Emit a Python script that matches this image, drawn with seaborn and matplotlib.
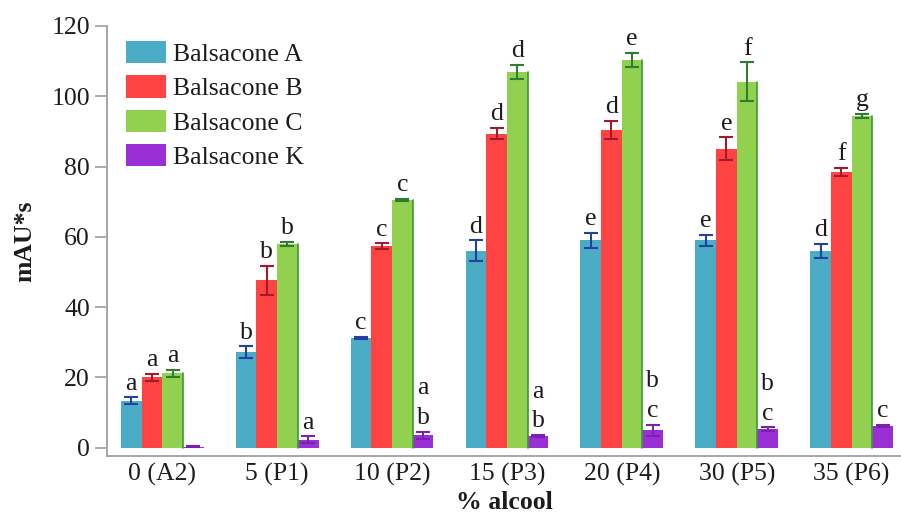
import numpy as np
import pandas as pd
import matplotlib
matplotlib.use("Agg")
import matplotlib.pyplot as plt
import seaborn as sns

categories = ["0 (A2)", "5 (P1)", "10 (P2)", "15 (P3)", "20 (P4)", "30 (P5)", "35 (P6)"]
series = ["Balsacone A", "Balsacone B", "Balsacone C", "Balsacone K"]

bal_a = [13.3, 27.1, 31.2, 56.0, 59.0, 59.0, 56.0]
bal_b = [20.1, 47.6, 57.3, 89.3, 90.4, 85.1, 78.4]
bal_c = [21.2, 58.0, 70.5, 106.9, 110.3, 104.1, 94.4]
bal_k = [0.3, 2.2, 3.5, 3.3, 4.9, 5.3, 6.2]

err_a = [1.0, 1.7, 0.3, 3.0, 2.2, 1.5, 1.9]
err_b = [1.0, 4.1, 0.8, 1.6, 2.6, 3.2, 1.1]
err_c = [1.0, 0.6, 0.2, 1.9, 2.1, 5.5, 0.5]
err_k = [0.1, 1.0, 1.0, 0.3, 1.7, 0.5, 0.3]

let_a = ["a", "b", "c", "d", "e", "e", "d"]
let_b = ["a", "b", "c", "d", "d", "e", "f"]
let_c = ["a", "b", "c", "d", "e", "f", "g"]
let_k = ["", "a", "a\nb", "a\nb", "b\nc", "b\nc", "c"]

bar_colors = ["#4BACC6", "#FF4242", "#92D050", "#9B2FD6"]
err_colors = ["#2342A0", "#A31A2C", "#2E7D32", "#7A22B0"]

values = [bal_a, bal_b, bal_c, bal_k]
errors = [err_a, err_b, err_c, err_k]
letters = [let_a, let_b, let_c, let_k]

rows = []
for s, vals in zip(series, values):
    for c, v in zip(categories, vals):
        rows.append({"cat": c, "series": s, "val": v})
df = pd.DataFrame(rows)

sns.set_style("white")
plt.rcParams["font.family"] = ["Liberation Serif", "DejaVu Serif"]
FS = 18.5
TXT = "#1c1c1c"

fig = plt.figure(figsize=(9.01, 5.14), dpi=100)
ax = fig.add_axes([0.119, 0.1136, 0.881, 0.836])

sns.barplot(data=df, x="cat", y="val", hue="series", order=categories,
            hue_order=series, palette=bar_colors, saturation=1, width=0.72,
            errorbar=None, ax=ax, linewidth=0)

# error bars and letters from patch positions
containers = list(ax.containers)[:4]
for si, cont in enumerate(containers):
    for bi, patch in enumerate(cont.patches):
        xc = patch.get_x() + patch.get_width() / 2
        h = patch.get_height()
        e = errors[si][bi]
        if si == 2:
            ax.plot([patch.get_x() + patch.get_width(), patch.get_x() + patch.get_width()],
                    [0, h], color="#3A9A3A", lw=1.2, zorder=3)
        if e > 0:
            ax.errorbar(xc, h, yerr=e, fmt="none", ecolor=err_colors[si],
                        elinewidth=1.5, capsize=5, capthick=1.5, zorder=4)
        lab = letters[si][bi]
        if lab:
            ax.annotate(lab, (xc, h + e), xytext=(0, 2), textcoords="offset points",
                        ha="center", va="bottom", fontsize=FS, color=TXT,
                        linespacing=1.45)

ax.set_ylim(-2.25, 120)
ax.set_xlim(-0.479, 6.43)
ax.set_yticks([0, 20, 40, 60, 80, 100, 120])
ax.tick_params(axis="y", which="major", direction="out", length=8.5, width=1.3,
               color="#a6a6a6", labelsize=FS, labelcolor=TXT, pad=4, left=True)
ax.tick_params(axis="x", length=0, labelsize=FS, labelcolor=TXT, pad=5.5)

for side in ["top", "right"]:
    ax.spines[side].set_visible(False)
for side in ["left", "bottom"]:
    ax.spines[side].set_color("#a6a6a6")
    ax.spines[side].set_linewidth(1.4)

ax.set_xlabel("% alcool", fontsize=FS, fontweight="bold", color=TXT, labelpad=3.5)
ax.set_ylabel("mAU*s", fontsize=FS, fontweight="bold", color=TXT, labelpad=11)

leg = ax.legend(loc="upper left", bbox_to_anchor=(126 / 901, 1 - 41 / 514),
                bbox_transform=fig.transFigure, frameon=False, fontsize=FS,
                handlelength=1.56, handleheight=0.97, handletextpad=0.25,
                labelspacing=0.36, borderpad=0, borderaxespad=0)
for t in leg.get_texts():
    t.set_color(TXT)

fig.savefig("out.png", dpi=100)
